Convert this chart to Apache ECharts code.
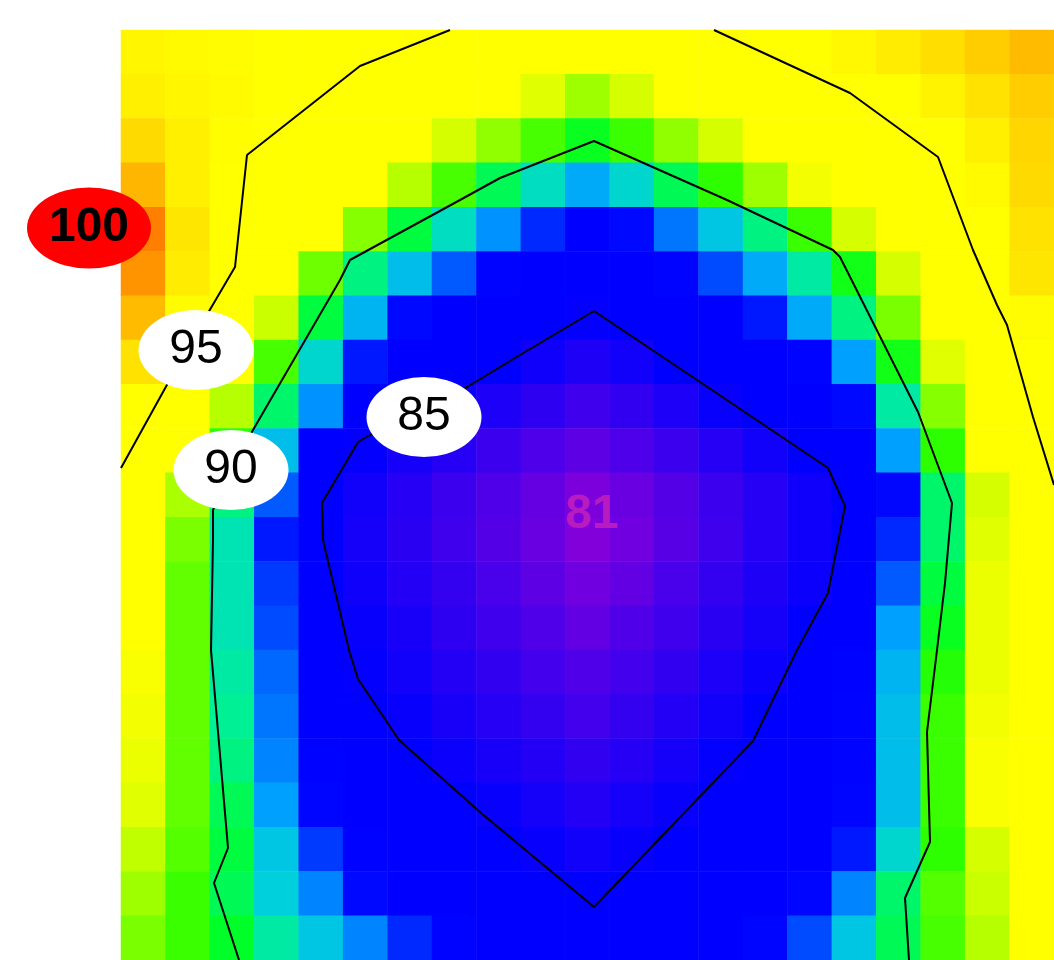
<!DOCTYPE html>
<html>
<head>
<meta charset="utf-8">
<script src="https://cdn.jsdelivr.net/npm/echarts@6/dist/echarts.min.js"></script>
<style>
html, body { margin: 0; padding: 0; background: #fff; }
#chart { width: 1054px; height: 960px; }
</style>
</head>
<body>
<div id="chart"></div>
<script>
// cell centres of the surface grid (plot units), x left->right, y top->bottom
const xCells = ['0.22','0.67','1.11','1.55','2.00','2.44','2.89','3.33','3.78','4.22','4.67',
                '5.11','5.55','6.00','6.44','6.89','7.33','7.77','8.22','8.66','9.11'];
const yCells = ['9.08','8.64','8.19','7.75','7.31','6.86','6.42','5.98','5.54','5.09','4.65',
                '4.21','3.76','3.32','2.88','2.44','1.99','1.55','1.11','0.66','0.22'];

// surface values, one array per row of yCells (top row first)
const zRow00 = [96.0,95.8,95.7,95.5,95.3,95.1,94.8,94.3,93.8,93.3,92.7,93.2,93.8,94.4,95.0,95.4,95.9,96.3,96.7,97.1,97.5];
const zRow01 = [96.2,96.0,95.8,95.4,95.0,94.4,93.8,93.2,92.6,92.0,91.4,91.9,92.5,93.1,93.7,94.4,95.0,95.5,96.1,96.6,97.1];
const zRow02 = [96.8,96.2,95.6,94.8,94.0,93.3,92.6,91.9,91.3,90.7,90.1,90.6,91.3,91.9,92.6,93.3,94.0,94.7,95.5,96.2,96.9];
const zRow03 = [97.6,96.2,95.4,94.3,93.4,92.5,91.6,90.7,89.8,89.2,88.6,89.1,89.8,90.5,91.4,92.3,93.2,94.0,94.9,95.8,96.8];
const zRow04 = [98.5,96.5,95.3,93.9,92.6,91.2,89.9,89.2,88.4,87.7,87.0,87.5,88.2,88.9,89.6,90.6,91.9,93.1,94.4,95.5,96.6];
const zRow05 = [98.2,96.3,95.0,93.0,91.0,89.6,88.8,88.0,87.2,86.6,86.0,86.5,87.2,87.9,88.6,89.4,90.2,91.9,93.5,95.1,96.5];
const zRow06 = [97.5,95.7,93.8,91.8,89.9,88.7,87.5,86.8,86.2,85.6,84.9,85.4,86.2,86.9,87.6,88.6,89.6,91.1,92.7,94.4,95.7];
const zRow07 = [96.6,94.7,92.7,90.7,89.1,87.6,86.8,86.0,85.2,84.6,84.1,84.5,85.1,85.8,86.5,87.2,88.5,90.2,92.0,93.8,95.4];
const zRow08 = [95.5,93.5,91.6,89.7,88.4,87.0,85.6,84.7,84.2,83.7,83.2,83.6,84.2,84.8,85.6,86.5,87.5,89.4,91.2,93.2,95.0];
const zRow09 = [94.4,92.5,90.5,88.8,87.0,84.9,84.4,83.9,83.3,82.8,82.3,82.8,83.3,83.9,84.5,85.3,86.7,88.5,90.5,92.5,94.5];
const zRow10 = [93.6,91.5,89.6,88.0,85.4,84.5,83.9,83.3,82.7,82.1,81.5,82.0,82.6,83.3,83.9,84.6,85.6,87.4,89.7,91.9,93.9];
const zRow11 = [92.9,91.1,89.3,87.6,85.1,84.4,83.8,83.2,82.6,82.0,81.3,81.8,82.5,83.2,83.9,84.6,85.7,87.7,89.7,92.0,93.6];
const zRow12 = [92.7,90.9,89.3,87.8,85.6,84.6,84.0,83.5,82.9,82.3,81.8,82.2,82.9,83.5,84.1,84.7,86.1,88.0,89.9,92.2,93.6];
const zRow13 = [92.5,90.9,89.3,87.9,86.0,84.8,84.3,83.7,83.2,82.7,82.2,82.7,83.2,83.8,84.4,85.0,86.8,88.5,90.1,92.2,93.6];
const zRow14 = [92.4,90.9,89.4,88.1,86.4,84.9,84.5,84.0,83.6,83.1,82.7,83.1,83.6,84.2,84.7,85.7,87.1,88.7,90.4,92.2,93.6];
const zRow15 = [92.3,90.9,89.5,88.2,86.9,85.5,84.8,84.3,83.9,83.5,83.1,83.5,84.0,84.5,85.0,86.1,87.2,88.8,90.6,92.3,93.5];
const zRow16 = [92.2,90.9,89.6,88.3,87.1,86.2,85.3,84.7,84.3,84.0,83.6,83.9,84.4,84.9,85.6,86.4,87.2,88.8,90.6,92.4,93.4];
const zRow17 = [92.0,90.9,89.8,88.5,87.3,86.6,86.0,85.3,84.8,84.4,84.0,84.4,84.8,85.4,86.0,86.7,87.3,88.8,90.6,92.4,93.4];
const zRow18 = [91.7,90.8,89.9,88.9,87.8,87.1,86.5,85.9,85.3,84.8,84.5,84.8,85.3,85.9,86.5,87.0,87.6,89.1,90.5,91.9,92.9];
const zRow19 = [91.4,90.6,89.8,89.0,88.3,87.5,87.0,86.5,85.9,85.4,85.0,85.3,85.8,86.3,86.8,87.3,88.3,89.7,90.8,91.8,92.7];
const zRow20 = [91.1,90.6,90.0,89.4,88.9,88.3,87.7,87.2,86.6,86.1,85.6,85.9,86.3,86.8,87.3,87.9,88.9,89.8,90.7,91.6,92.5];

const zRows = [zRow00, zRow01, zRow02, zRow03, zRow04, zRow05, zRow06, zRow07, zRow08, zRow09, zRow10,
               zRow11, zRow12, zRow13, zRow14, zRow15, zRow16, zRow17, zRow18, zRow19, zRow20];

// contour lines [x, y]
const c95Left = [[3.29,9.30],[2.39,8.94],[1.26,8.05],[1.14,6.93],[0.87,6.47],[0.47,5.77],[0.00,4.92]];
const c95Right = [[5.93,9.30],[7.29,8.67],[8.17,8.03],[8.52,7.10],[8.76,6.55],[8.86,6.35],[9.12,5.43],[9.33,4.75]];
const c90 = [[1.18,0.00],[0.93,0.77],[1.07,1.12],[0.90,3.10],[0.92,4.20],[0.92,4.50],[1.32,5.30],[2.19,6.80],
             [2.29,7.00],[3.39,7.60],[3.79,7.82],[4.73,8.19],[6.06,7.60],[7.12,7.10],[7.19,7.03],[7.97,5.48],
             [8.31,4.57],[8.24,3.77],[8.16,3.10],[8.06,2.28],[8.09,1.18],[7.84,0.62],[7.88,0.00]];
const c85 = [[4.73,6.49],[5.79,5.78],[7.07,4.92],[7.24,4.54],[7.07,3.67],[6.76,3.10],[6.32,2.19],[4.73,0.53],
             [3.60,1.47],[2.78,2.20],[2.37,2.81],[2.28,3.10],[2.02,4.20],[2.01,4.57],[2.37,5.18],[2.49,5.25],
             [3.46,5.73],[3.99,6.05],[4.73,6.49]];

// contour labels [x, y, level]
const levelLabels = [[0.75,6.10,95],[1.10,4.90,90],[3.03,5.43,85]];
const maxPoint = [-0.32, 7.32, 100];
const minPoint = [4.71, 4.45, 81];

const palette = ['#8c00d7','#7b00dc','#6900e1','#5700e6','#4600eb','#3400f0','#2300f5','#1100fa',
  '#0000ff','#0000ff','#0000ff','#0000ff','#0000ff','#0008ff','#005aff','#00a0ff','#00d0dc','#00f096',
  '#00ff28','#2dff00','#6eff00','#aaff00','#e0ff00','#ffff00','#ffff00','#ffff00','#ffff00','#ffff00',
  '#ffff00','#ffff00','#fff600','#ffe600','#ffd200','#ffbb00','#ffa000','#ff8000','#ff5c00','#ff3000','#ff0000'];

const heat = [];
zRows.forEach(function (row, j) {
  row.forEach(function (v, i) { heat.push([i, j, v]); });
});

const font = 'Liberation Sans, Arial, Helvetica, sans-serif';
const ellipse = 'path://M0,50A50,50,0,1,1,100,50A50,50,0,1,1,0,50Z';

function contourLine(pts) {
  return {
    type: 'line', xAxisIndex: 1, yAxisIndex: 1, data: pts,
    symbol: 'none', silent: true, z: 3,
    lineStyle: { color: '#000', width: 2 }
  };
}

const chart = echarts.init(document.getElementById('chart'));
chart.setOption({
  animation: false,
  textStyle: { fontFamily: font },
  grid: [
    { left: 121, top: 30, right: 0, bottom: 0 },
    { left: 121, top: 30, right: 0, bottom: 0 }
  ],
  xAxis: [
    { type: 'category', gridIndex: 0, data: xCells, show: false },
    { type: 'value', gridIndex: 1, min: 0, max: 9.33, show: false }
  ],
  yAxis: [
    { type: 'category', gridIndex: 0, data: yCells, inverse: true, show: false },
    { type: 'value', gridIndex: 1, min: 0, max: 9.30, show: false }
  ],
  visualMap: {
    type: 'continuous', show: false, seriesIndex: 0,
    min: 81, max: 100, inRange: { color: palette }
  },
  series: [
    {
      type: 'heatmap', xAxisIndex: 0, yAxisIndex: 0, data: heat,
      itemStyle: { borderWidth: 0 }, emphasis: { disabled: true }
    },
    contourLine(c95Left),
    contourLine(c95Right),
    contourLine(c90),
    contourLine(c85),
    {
      type: 'scatter', xAxisIndex: 1, yAxisIndex: 1, z: 5, silent: true,
      symbol: ellipse, symbolSize: [115, 80],
      itemStyle: { color: '#fff', opacity: 1 },
      data: levelLabels,
      label: {
        show: true, position: 'inside', fontSize: 48, color: '#000', fontFamily: font,
        formatter: function (p) { return p.value[2]; }
      }
    },
    {
      type: 'scatter', xAxisIndex: 1, yAxisIndex: 1, z: 5, silent: true, clip: false,
      symbol: ellipse, symbolSize: [124, 81],
      itemStyle: { color: '#ff0000', opacity: 1 },
      data: [maxPoint],
      label: {
        show: true, position: 'inside', fontSize: 48, fontWeight: 'bold', color: '#000', fontFamily: font,
        formatter: function (p) { return p.value[2]; }
      }
    },
    {
      type: 'scatter', xAxisIndex: 1, yAxisIndex: 1, z: 5, silent: true,
      symbolSize: 1, itemStyle: { color: 'transparent', opacity: 1 },
      data: [minPoint],
      label: {
        show: true, position: 'inside', fontSize: 48, fontWeight: 'bold', color: '#b81cc0',
        textBorderWidth: 0, opacity: 1, fontFamily: font,
        formatter: function (p) { return p.value[2]; }
      }
    }
  ]
});
</script>
</body>
</html>
